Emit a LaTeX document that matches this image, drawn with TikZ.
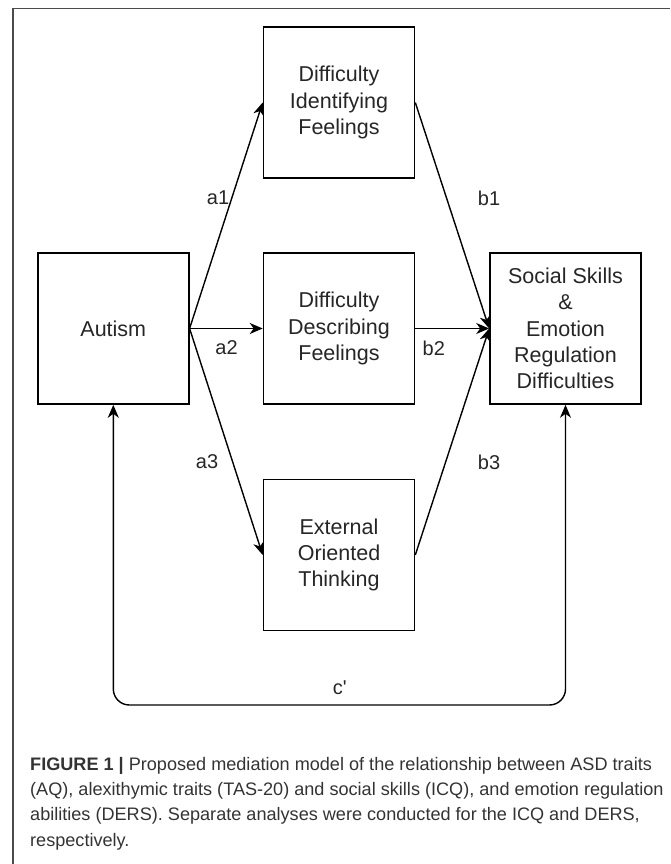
\documentclass[tikz,border=0pt]{standalone}
\usepackage{fontspec}
\setmainfont{Liberation Sans}
\usetikzlibrary{arrows.meta}

\begin{document}
\begin{tikzpicture}[x=1pt, y=1pt,
    var/.style={draw, line width=1.6pt, minimum width=151pt, minimum height=151pt,
        inner sep=0pt, align=center, text=black!85, font=\fontsize{21.5}{26.3}\selectfont},
    effect/.style={line width=1.4pt, -{Stealth[length=13pt, width=11pt, inset=4pt]}},
    coef/.style={text=black!85, font=\fontsize{20}{24}\selectfont}]
    \useasboundingbox (0,0) rectangle (670,864);
    % frame
    \draw[line width=1.4pt, black!70] (12.8,0) -- (12.8,855.7) -- (670,855.7);
    % boxes
    \node[var] (autism) at (113.3,535.5) {Autism};
    \node[var] (dif) at (339,761.5) {Difficulty\\Identifying\\Feelings};
    \node[var] (ddf) at (339,535.5) {Difficulty\\Describing\\Feelings};
    \node[var] (eot) at (339,309) {External\\Oriented\\Thinking};
    \node[var] (social) at (565.5,535.5) {Social Skills\\\&\\Emotion\\Regulation\\Difficulties};
    % paths
    \draw[effect] (autism.east) -- (dif.west);
    \draw[effect] (autism.east) -- (ddf.west);
    \draw[effect] (autism.east) -- (eot.west);
    \draw[effect] (dif.east) -- (social.west);
    \draw[effect] (ddf.east) -- (social.west);
    \draw[effect] (eot.east) -- (social.west);
    \coordinate (cbot) at (339,159);
    \draw[effect, {Stealth[length=13pt, width=11pt, inset=4pt]}-{Stealth[length=13pt, width=11pt, inset=4pt]},
        rounded corners=16pt] (autism.south) |- (cbot) -| (social.south);
    % coefficients
    \node[coef] (a1) at (218,666) {a1};
    \node[coef] (b1) at (489,666) {b1};
    \node[coef] (a2) at (226.5,516) {a2};
    \node[coef] (b2) at (433.8,516) {b2};
    \node[coef] (a3) at (207,402) {a3};
    \node[coef] (b3) at (489,402) {b3};
    \node[coef] (c) at (339.7,176) {c\textquotesingle};
    % caption
    \node[anchor=north west, inner sep=0pt, align=left, text=black!80,
        font=\fontsize{18.1}{25.3}\selectfont] (caption) at (30,107)
        {\textbf{FIGURE 1 |} Proposed mediation model of the relationship between ASD traits\\
        (AQ), alexithymic traits (TAS-20) and social skills (ICQ), and emotion regulation\\
        abilities (DERS). Separate analyses were conducted for the ICQ and DERS,\\
        respectively.};
\end{tikzpicture}
\end{document}
